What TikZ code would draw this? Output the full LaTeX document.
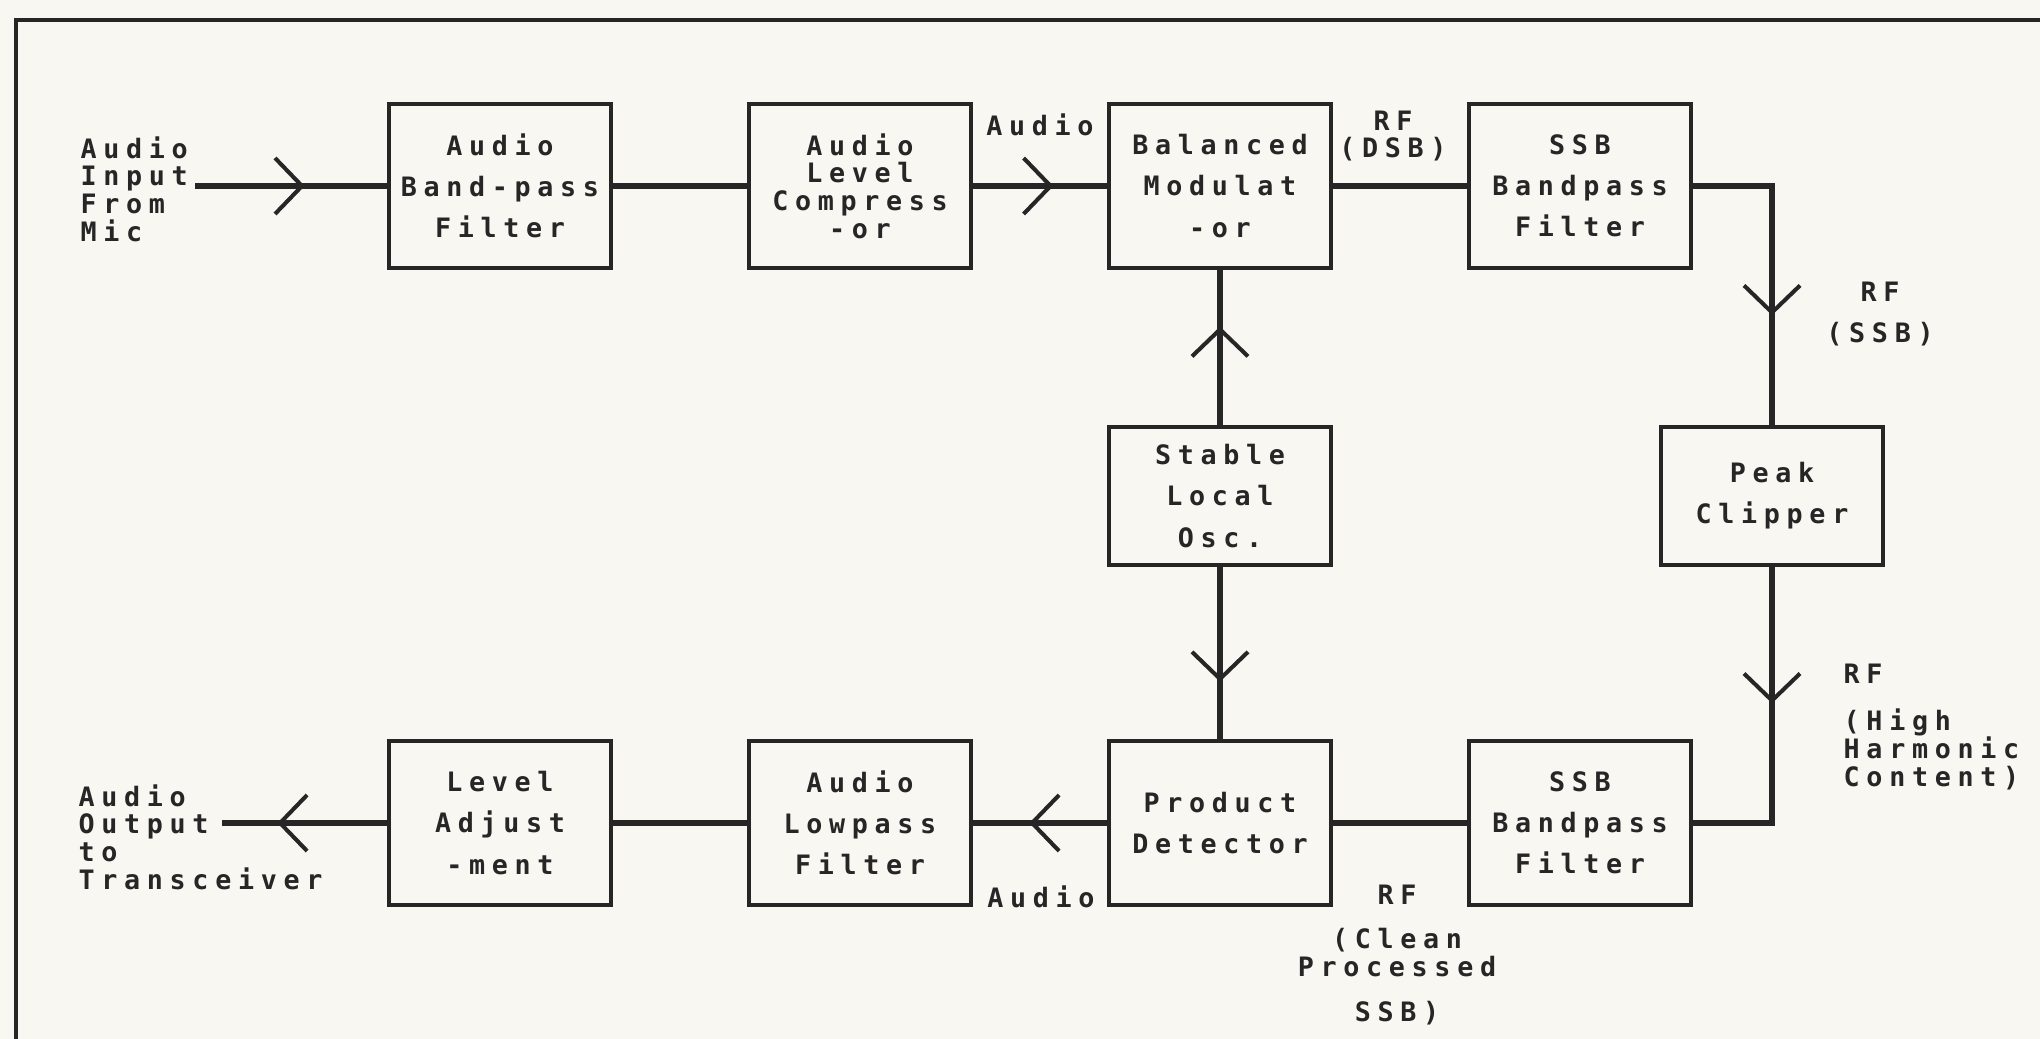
\documentclass[tikz,border=0pt]{standalone}
\usepackage{fontspec}
\newfontfamily\dotmatrix{DejaVu Sans Mono}[LetterSpace=25]
\usetikzlibrary{positioning, arrows.meta, decorations.markings}
\definecolor{paper}{RGB}{248,247,242}
\definecolor{ink}{RGB}{38,38,38}
\tikzset{%
  node distance=3.6cm, % centre to centre of the boxes in a row
  block/.style={draw=ink, line width=1.15pt, minimum width=2.22cm, minimum height=1.64cm,
    inner sep=0pt, align=center, text=ink, font=\dotmatrix\bfseries\fontsize{7.6}{11.7}\selectfont},
  small block/.style={block, minimum height=1.38cm},
  tag/.style={inner sep=0pt, text=ink, font=\dotmatrix\bfseries\fontsize{7.6}{7.9}\selectfont},
  wire/.style={ink, line width=1.7pt},
  vwire/.style={ink, line width=1.45pt},
  chev/.tip={Straight Barb[length=2.7mm, width=5.6mm, line width=1.15pt]},
  flow/.style={decoration={markings, mark=at position #1 with {\arrow{chev}}}, postaction={decorate}}
}

\begin{document}
\begin{tikzpicture}[x=0.1mm, y=-0.1mm]
    \fill[paper] (0,0) rectangle (2040,1039);
    \useasboundingbox (0,0) rectangle (2040,1039);
    \draw[ink, line width=1.4pt] (16,1039) -- (16,20) -- (2040,20); % open frame

    \node[block] (abpf) at (500,186) {Audio\\Band-pass\\Filter};
    \node[block, right of=abpf, font=\dotmatrix\bfseries\fontsize{7.6}{7.9}\selectfont] (alc) {Audio\\Level\\Compress\\-or};
    \node[block, right of=alc] (bmod) {Balanced\\Modulat\\-or};
    \node[block, right of=bmod] (ssbtop) {SSB\\Bandpass\\Filter};

    \node[small block, node distance=3.1cm, below of=bmod] (osc) {Stable\\Local\\Osc.};
    \node[small block, node distance=5.52cm, right of=osc] (clip) {Peak\\Clipper};

    \node[block, node distance=3.27cm, below of=osc] (pdet) {Product\\Detector};
    \node[block, right of=pdet] (ssbbot) {SSB\\Bandpass\\Filter};
    \node[block, left of=pdet] (lpf) {Audio\\Lowpass\\Filter};
    \node[block, left of=lpf] (ladj) {Level\\Adjust\\-ment};

    \node[tag, align=left, anchor=west] (mic) at (80,189) {Audio\\Input\\From\\Mic};
    \node[tag, align=left, anchor=west] (out) at (78,837) {Audio\\Output\\to\\Transceiver};
    \coordinate (micend) at (195,186);
    \coordinate (outend) at (222,823);

    \draw[wire, flow=0.572] (micend) -- (abpf);
    \draw[wire] (abpf) -- (alc);
    \draw[wire, flow=0.6] (alc) -- (bmod);
    \draw[wire] (bmod) -- (ssbtop);
    \draw[vwire, flow=0.655] (ssbtop.east) -| (clip.north);
    \draw[vwire, flow=0.635] (osc) -- (bmod);
    \draw[vwire, flow=0.667] (osc) -- (pdet);
    \draw[vwire, flow=0.407] (clip.south) |- (ssbbot.east);
    \draw[wire] (ssbbot) -- (pdet);
    \draw[wire, flow=0.58] (pdet) -- (lpf);
    \draw[wire] (lpf) -- (ladj);
    \draw[wire, flow=0.665] (ladj) -- (outend);

    \node[tag] (audioin) at (1040,125) {Audio};
    \node[tag, align=center] (dsb) at (1393,136) {RF\\(DSB)};
    \node[tag, align=center] (ssb) at (1880,314) {RF\\[1.4mm](SSB)};
    \node[tag, align=left, anchor=west] (harm) at (1843,727) {RF\\[1.9mm](High\\Harmonic\\Content)};
    \node[tag] (audioout) at (1041,897) {Audio};
    \node[tag, align=center] (clean) at (1397,955) {RF\\[1.6mm](Clean\\Processed\\[1.7mm]SSB)};
\end{tikzpicture}
\end{document}
